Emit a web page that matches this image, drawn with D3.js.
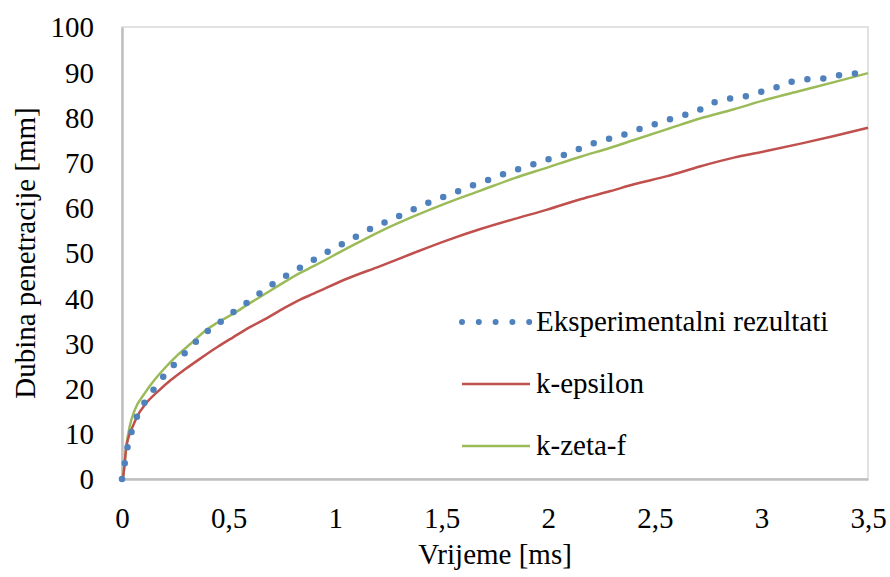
<!DOCTYPE html>
<html>
<head>
<meta charset="utf-8">
<script src="https://cdn.jsdelivr.net/npm/d3@7"></script>
<style>
  body { margin: 0; background: #fff; }
  svg text { font-family: "Liberation Serif", "DejaVu Serif", "Times New Roman", Times, serif; fill: #000; }
</style>
</head>
<body>
<svg id="chart"></svg>
<script>
// experimental results (time in ms, depth in mm)
const expTime = [0, 0.014, 0.027, 0.046, 0.074, 0.111, 0.155, 0.202, 0.252, 0.305, 0.358, 0.417, 0.479, 0.539, 0.601, 0.661, 0.725, 0.789, 0.855, 0.922, 0.988, 1.055, 1.123, 1.190, 1.259, 1.328, 1.398, 1.467, 1.537, 1.610, 1.682, 1.753, 1.822, 1.896, 1.968, 2.040, 2.114, 2.184, 2.255, 2.331, 2.402, 2.472, 2.546, 2.618, 2.691, 2.757, 2.829, 2.903, 2.977, 3.048, 3.122, 3.194, 3.271, 3.344, 3.418, 3.5];
const expDepth = [0, 3.8, 7.3, 10.6, 14.2, 17.3, 20.2, 23.1, 25.7, 28.4, 30.9, 33.3, 35.3, 37.5, 39.5, 41.6, 43.7, 45.5, 47.3, 49.1, 50.9, 52.5, 54.3, 55.9, 57.3, 58.8, 60.3, 61.7, 62.9, 64.3, 65.6, 66.7, 68.1, 69.0, 70.3, 71.2, 72.4, 73.8, 74.9, 75.8, 77.0, 78.1, 79.2, 80.3, 81.2, 82.9, 84.0, 84.4, 85.4, 86.3, 87.6, 88.4, 88.5, 89.2, 89.6, 90.0];

// k-epsilon
const keTime = [0, 0.005, 0.02, 0.036, 0.044, 0.075, 0.107, 0.169, 0.232, 0.294, 0.372, 0.451, 0.523, 0.60, 0.68, 0.76, 0.836, 0.899, 1.055, 1.212, 1.368, 1.525, 1.682, 1.838, 1.995, 2.151, 2.292, 2.402, 2.558, 2.715, 2.871, 3.028, 3.184, 3.341, 3.5];
const keDepth = [0, 0.5, 7.0, 10.0, 10.9, 14.2, 16.4, 19.4, 22.0, 24.2, 26.8, 29.3, 31.4, 33.6, 35.6, 37.8, 39.7, 41.0, 44.3, 47.1, 50.0, 52.8, 55.3, 57.5, 59.6, 61.9, 63.7, 65.2, 67.0, 69.2, 71.1, 72.6, 74.2, 75.9, 77.7];

// k-zeta-f
const kzTime = [0, 0.005, 0.02, 0.036, 0.06, 0.107, 0.154, 0.2, 0.263, 0.326, 0.388, 0.445, 0.523, 0.60, 0.68, 0.742, 0.836, 0.899, 1.055, 1.212, 1.368, 1.525, 1.682, 1.838, 1.995, 2.151, 2.292, 2.402, 2.558, 2.715, 2.871, 3.028, 3.184, 3.341, 3.5];
const kzDepth = [0, 0.5, 7.2, 11.6, 15.3, 19.0, 22.0, 24.5, 27.5, 30.1, 32.7, 34.5, 36.6, 38.9, 41.2, 43.0, 45.6, 47.1, 51.0, 54.8, 58.1, 61.1, 63.8, 66.5, 68.9, 71.3, 73.3, 75.0, 77.4, 79.8, 81.8, 84.0, 85.9, 87.8, 89.8];

const xTicks = [0, 0.5, 1, 1.5, 2, 2.5, 3, 3.5];
const yTicks = [0, 10, 20, 30, 40, 50, 60, 70, 80, 90, 100];
const seriesNames = ["Eksperimentalni rezultati", "k-epsilon", "k-zeta-f"];

const width = 890, height = 577;
const margin = { top: 27, right: 22, bottom: 98, left: 122 };
const serif = '"Liberation Serif", "DejaVu Serif", "Times New Roman", Times, serif';

const svg = d3.select("#chart").attr("width", width).attr("height", height)
  .attr("font-family", serif);

const x = d3.scaleLinear().domain([0, 3.5]).range([margin.left, width - margin.right]);
const y = d3.scaleLinear().domain([0, 100]).range([height - margin.bottom, margin.top]);

// plot area border
svg.append("rect")
  .attr("x", x(0)).attr("y", y(100))
  .attr("width", x(3.5) - x(0)).attr("height", y(0) - y(100))
  .attr("fill", "none").attr("stroke", "#d9d9d9").attr("stroke-width", 1.5);

// axes
const xAxis = svg.append("g")
  .attr("transform", `translate(0,${y(0)})`)
  .call(d3.axisBottom(x).tickValues(xTicks).tickSize(0).tickPadding(28)
    .tickFormat(d => String(d).replace(".", ",")));
const yAxis = svg.append("g")
  .attr("transform", `translate(${x(0)},0)`)
  .call(d3.axisLeft(y).tickValues(yTicks).tickSize(0).tickPadding(28));

[xAxis, yAxis].forEach(a => {
  a.attr("font-family", serif).attr("font-size", 29);
  a.select(".domain").attr("stroke", "#bfbfbf").attr("stroke-width", 2.5);
  a.selectAll("text").attr("fill", "#000");
});
yAxis.selectAll("text").attr("dy", "0.34em");
xAxis.selectAll("text").attr("dy", "0.72em");

// axis titles
svg.append("text")
  .attr("x", (x(0) + x(3.5)) / 2).attr("y", 564)
  .attr("text-anchor", "middle").attr("font-size", 29)
  .text("Vrijeme [ms]");
svg.append("text")
  .attr("transform", `translate(35,${(y(0) + y(100)) / 2}) rotate(-90)`)
  .attr("text-anchor", "middle").attr("font-size", 29)
  .text("Dubina penetracije [mm]");

const line = d3.line().x(d => x(d[0])).y(d => y(d[1])).curve(d3.curveMonotoneX);

svg.append("path")
  .datum(kzTime.map((t, i) => [t, kzDepth[i]]))
  .attr("d", line).attr("fill", "none")
  .attr("stroke", "#9bbb59").attr("stroke-width", 2.5);

svg.append("path")
  .datum(keTime.map((t, i) => [t, keDepth[i]]))
  .attr("d", line).attr("fill", "none")
  .attr("stroke", "#c0504d").attr("stroke-width", 2.5);

svg.append("path")
  .datum(expTime.map((t, i) => [t, expDepth[i]]))
  .attr("d", line).attr("fill", "none")
  .attr("stroke", "#4f81bd").attr("stroke-width", 6.5)
  .attr("stroke-linecap", "round").attr("stroke-dasharray", "0 16");

// legend
const legend = svg.append("g");
const legendStyles = [
  { color: "#4f81bd", w: 6, dash: "0 16.8", cap: "round" },
  { color: "#c0504d", w: 2.5, dash: null, cap: "butt" },
  { color: "#9bbb59", w: 2.5, dash: null, cap: "butt" }
];
seriesNames.forEach((name, i) => {
  const ly = 322 + i * 62;
  const s = legendStyles[i];
  legend.append("line")
    .attr("x1", 462).attr("x2", 530).attr("y1", ly).attr("y2", ly)
    .attr("stroke", s.color).attr("stroke-width", s.w)
    .attr("stroke-linecap", s.cap).attr("stroke-dasharray", s.dash);
  legend.append("text")
    .attr("x", 536).attr("y", ly + 9)
    .attr("font-size", 29)
    .text(name);
});
</script>
</body>
</html>
